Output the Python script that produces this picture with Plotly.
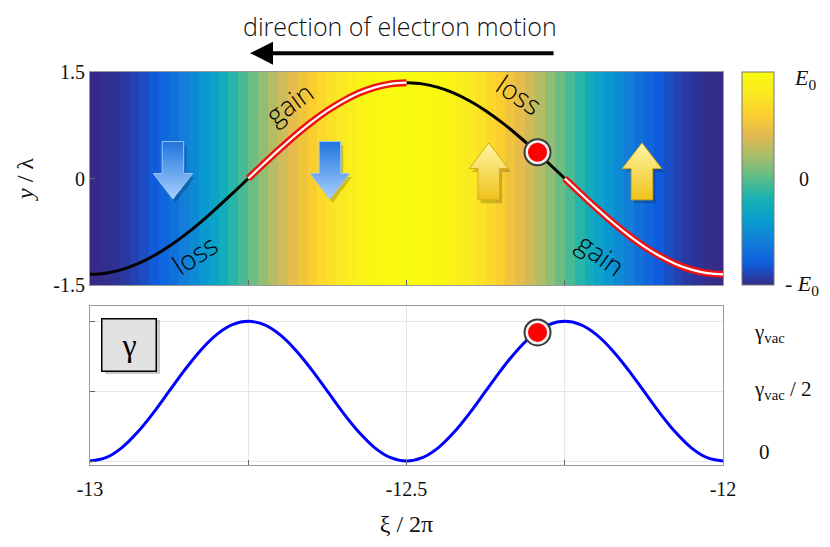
import plotly.graph_objects as go
from plotly.subplots import make_subplots

# ---- data ----
xi = [-13.0, -12.975, -12.95, -12.925, -12.9, -12.875, -12.85, -12.825, -12.8, -12.775,
      -12.75, -12.725, -12.7, -12.675, -12.65, -12.625, -12.6, -12.575, -12.55, -12.525,
      -12.5, -12.475, -12.45, -12.425, -12.4, -12.375, -12.35, -12.325, -12.3, -12.275,
      -12.25, -12.225, -12.2, -12.175, -12.15, -12.125, -12.1, -12.075, -12.05, -12.025, -12.0]

# electron trajectory y / lambda
y_traj = [-1.35, -1.333, -1.284, -1.203, -1.092, -0.955, -0.794, -0.613, -0.417, -0.211,
          0.0, 0.211, 0.417, 0.613, 0.794, 0.955, 1.092, 1.203, 1.284, 1.333,
          1.35, 1.333, 1.284, 1.203, 1.092, 0.955, 0.794, 0.613, 0.417, 0.211,
          0.0, -0.211, -0.417, -0.613, -0.794, -0.955, -1.092, -1.203, -1.284, -1.333, -1.35]

# gamma / gamma_vac
gamma = [0.0, 0.024, 0.095, 0.206, 0.345, 0.5, 0.655, 0.794, 0.905, 0.976,
         1.0, 0.976, 0.905, 0.794, 0.655, 0.5, 0.345, 0.206, 0.095, 0.024,
         0.0, 0.024, 0.095, 0.206, 0.345, 0.5, 0.655, 0.794, 0.905, 0.976,
         1.0, 0.976, 0.905, 0.794, 0.655, 0.5, 0.345, 0.206, 0.095, 0.024, 0.0]

# field E / E0, 64 vertical stripes from xi=-13 to -12
field_E = [-0.999, -0.989, -0.970, -0.942, -0.904, -0.858, -0.803, -0.741,
           -0.672, -0.596, -0.514, -0.428, -0.337, -0.243, -0.147, -0.049,
           0.049, 0.147, 0.243, 0.337, 0.428, 0.514, 0.596, 0.672,
           0.741, 0.803, 0.858, 0.904, 0.942, 0.970, 0.989, 0.999,
           0.999, 0.989, 0.970, 0.942, 0.904, 0.858, 0.803, 0.741,
           0.672, 0.596, 0.514, 0.428, 0.337, 0.243, 0.147, 0.049,
           -0.049, -0.147, -0.243, -0.337, -0.428, -0.514, -0.596, -0.672,
           -0.741, -0.803, -0.858, -0.904, -0.942, -0.970, -0.989, -0.999]

# segments of the trajectory (index ranges in xi)
loss_segments = [(0, 10), (20, 30)]
gain_segments = [(10, 20), (30, 40)]

dot_xi = -12.293
dot_y = 0.37
dot_gamma = 0.921

# force arrows: position and direction
arrow_xi = [-12.869, -12.621, -12.370, -12.128]
arrow_dir = ["down", "down", "up", "up"]

parula = [[0.0, 'rgb(53,42,135)'], [0.1, 'rgb(15,92,221)'], [0.2, 'rgb(18,125,216)'],
          [0.3, 'rgb(7,156,207)'], [0.4, 'rgb(21,177,180)'], [0.5, 'rgb(89,189,140)'],
          [0.6, 'rgb(165,190,107)'], [0.7, 'rgb(225,185,82)'], [0.8, 'rgb(252,206,46)'],
          [0.9, 'rgb(250,234,34)'], [1.0, 'rgb(249,251,14)']]

SERIF = "Liberation Serif, Times New Roman, serif"
SANS = "Open Sans, Liberation Sans, Arial, sans-serif"

fig = make_subplots(rows=2, cols=1)

# top panel: field map
fig.add_trace(go.Heatmap(
    z=[field_E], x0=-13 + 1 / 128, dx=1 / 64, y=[-1.5, 1.5],
    zmin=-1, zmax=1, colorscale=parula, zsmooth=False, hoverinfo='skip',
    colorbar=dict(x=1.030, xanchor='left', y=0.458, yanchor='bottom', xpad=0, ypad=0,
                  len=0.542, lenmode='fraction', thickness=32, thicknessmode='pixels',
                  outlinecolor='#777', outlinewidth=1, showticklabels=False, ticks='')
), row=1, col=1)

# force arrows (block arrows with vertical gradient)
for ax_xi, d in zip(arrow_xi, arrow_dir):
    s, h = 0.017, 0.031
    if d == "down":
        top, base, tip = 0.52, 0.07, -0.29
        px = [ax_xi - s, ax_xi + s, ax_xi + s, ax_xi + h, ax_xi, ax_xi - h, ax_xi - s, ax_xi - s]
        py = [top, top, base, base, tip, base, base, top]
        cs = [[0, '#a9d1ff'], [1, '#1f74dc']]
        edge = '#9cc6f5'
    else:
        bot, base, tip = -0.30, 0.14, 0.50
        px = [ax_xi - s, ax_xi + s, ax_xi + s, ax_xi + h, ax_xi, ax_xi - h, ax_xi - s, ax_xi - s]
        py = [bot, bot, base, base, tip, base, base, bot]
        cs = [[0, '#eec21a'], [1, '#fff6a6']]
        edge = '#d9ad12'
    fig.add_trace(go.Scatter(
        x=[v + 0.004 for v in px], y=[v - 0.05 for v in py], mode='lines', fill='toself',
        fillcolor='rgba(0,0,0,0.18)', line=dict(width=0), hoverinfo='skip', showlegend=False
    ), row=1, col=1)
    fig.add_trace(go.Scatter(
        x=px, y=py, mode='lines', fill='toself',
        fillgradient=dict(type='vertical', colorscale=cs),
        line=dict(color=edge, width=1), hoverinfo='skip', showlegend=False
    ), row=1, col=1)

# trajectory
for a, b in loss_segments:
    fig.add_trace(go.Scatter(
        x=xi[a:b + 1], y=y_traj[a:b + 1], mode='lines', line=dict(color='black', width=3, shape='spline'),
        hoverinfo='skip', showlegend=False
    ), row=1, col=1)
for a, b in gain_segments:
    fig.add_trace(go.Scatter(
        x=xi[a:b + 1], y=y_traj[a:b + 1], mode='lines', line=dict(color='#ee1111', width=7, shape='spline'),
        hoverinfo='skip', showlegend=False
    ), row=1, col=1)
    fig.add_trace(go.Scatter(
        x=xi[a:b + 1], y=y_traj[a:b + 1], mode='lines', line=dict(color='white', width=2.2, shape='spline'),
        hoverinfo='skip', showlegend=False
    ), row=1, col=1)

# bottom panel: gamma
fig.add_trace(go.Scatter(
    x=xi, y=gamma, mode='lines', line=dict(color='#0000ff', width=3, shape='spline'),
    hoverinfo='skip', showlegend=False
), row=2, col=1)

# electron markers
for r, yy in [(1, dot_y), (2, dot_gamma)]:
    fig.add_trace(go.Scatter(
        x=[dot_xi], y=[yy], mode='markers',
        marker=dict(size=26, color='#f4f4f4', line=dict(color='#3a3a3a', width=2)),
        hoverinfo='skip', showlegend=False, cliponaxis=False
    ), row=r, col=1)
    fig.add_trace(go.Scatter(
        x=[dot_xi], y=[yy], mode='markers',
        marker=dict(size=19, color='#ff0000', line=dict(width=0)),
        hoverinfo='skip', showlegend=False, cliponaxis=False
    ), row=r, col=1)

# axes
fig.update_xaxes(range=[-13, -12], showline=True, mirror=True, linecolor='#999', linewidth=1,
                 zeroline=False, ticks='inside', ticklen=5, tickcolor='#666')
fig.update_yaxes(showline=True, mirror=True, linecolor='#999', linewidth=1, zeroline=False,
                 ticks='inside', ticklen=5, tickcolor='#666')

fig.update_xaxes(domain=[0, 1], tickvals=[-12.75, -12.5, -12.25], showticklabels=False,
                 showgrid=True, gridcolor='rgba(0,0,0,0.12)', layer='above traces', row=1, col=1)
fig.update_yaxes(domain=[0.458, 1], range=[-1.5, 1.5], tickvals=[-1.5, 0, 1.5],
                 ticktext=['-1.5', '0', '1.5'], showgrid=True, gridcolor='rgba(0,0,0,0.12)',
                 layer='above traces', tickfont=dict(family=SERIF, size=20, color='#111'),
                 title=dict(text='<i>y</i> / λ', font=dict(family=SERIF, size=24, color='#111'),
                            standoff=12),
                 row=1, col=1)

fig.update_xaxes(domain=[0, 1], tickvals=[-13, -12.75, -12.5, -12.25, -12],
                 ticktext=['-13', '', '-12.5', '', '-12'], showgrid=True, gridcolor='#e6e6e6',
                 tickfont=dict(family=SERIF, size=20, color='#111'), ticklabelstandoff=6,
                 title=dict(text='ξ / 2π', font=dict(family=SERIF, size=24, color='#111'), standoff=16),
                 row=2, col=1)
fig.update_yaxes(domain=[0, 0.4046], range=[-0.028, 1.11], tickvals=[0, 0.5, 1],
                 showticklabels=False, showgrid=True, gridcolor='#e6e6e6', row=2, col=1)

# text annotations
ann = []
ann.append(dict(text='direction of electron motion', xref='paper', yref='paper', x=0.49, y=1.117,
                xanchor='center', yanchor='middle', showarrow=False,
                font=dict(family=SANS, size=25, color='#111', weight=300)))
ann.append(dict(text='', xref='paper', yref='paper', x=0.2528, y=1.048, ax=305, ay=0,
                showarrow=True, arrowhead=2, arrowsize=1.15, arrowwidth=4, arrowcolor='black'))
for txt, xx, yy, ang in [('gain', -12.686, 1.06, -36), ('loss', -12.322, 1.19, 34),
                         ('loss', -12.835, -1.07, -33), ('gain', -12.192, -1.07, 36)]:
    ann.append(dict(text=txt, xref='x', yref='y', x=xx, y=yy, showarrow=False, textangle=ang,
                    xanchor='center', yanchor='middle',
                    font=dict(family=SANS, size=27, color='#000', weight=300)))
# colorbar labels
ann.append(dict(text='<i>E</i><sub>0</sub>', xref='paper', yref='y', x=1.109, y=1.40,
                xanchor='left', yanchor='middle', showarrow=False,
                font=dict(family=SERIF, size=22, color='#111')))
ann.append(dict(text='0', xref='paper', yref='y', x=1.117, y=0.0,
                xanchor='left', yanchor='middle', showarrow=False,
                font=dict(family=SERIF, size=20, color='#111')))
ann.append(dict(text='- <i>E</i><sub>0</sub>', xref='paper', yref='y', x=1.095, y=-1.5,
                xanchor='left', yanchor='middle', showarrow=False,
                font=dict(family=SERIF, size=22, color='#111')))
# gamma labels
ann.append(dict(text='γ<sub>vac</sub>', xref='paper', yref='y2', x=1.046, y=0.914,
                xanchor='left', yanchor='middle', showarrow=False,
                font=dict(family=SERIF, size=21, color='#111')))
ann.append(dict(text='γ<sub>vac</sub> / 2', xref='paper', yref='y2', x=1.046, y=0.507,
                xanchor='left', yanchor='middle', showarrow=False,
                font=dict(family=SERIF, size=21, color='#111')))
ann.append(dict(text='0', xref='paper', yref='y2', x=1.054, y=0.064,
                xanchor='left', yanchor='middle', showarrow=False,
                font=dict(family=SERIF, size=21, color='#111')))
# gamma box
ann.append(dict(text='γ', xref='paper', yref='paper', x=0.0624, y=0.3066, showarrow=False,
                xanchor='center', yanchor='middle',
                width=51, height=49, bgcolor='#e2e2e2', bordercolor='black', borderwidth=1.5,
                font=dict(family=SERIF, size=32, color='black')))

fig.add_shape(type='rect', xref='paper', yref='paper', x0=0.0237, x1=0.1106, y0=0.2316, y1=0.369,
              fillcolor='rgba(0,0,0,0.22)', line=dict(width=0), layer='above')

# page body has an 8px margin, so the figure is drawn 8px smaller
fig.update_layout(
    width=822, height=539, margin=dict(l=82, r=107, t=64, b=82),
    plot_bgcolor='white', paper_bgcolor='white', showlegend=False,
    annotations=ann
)

fig.write_html("out.html")
